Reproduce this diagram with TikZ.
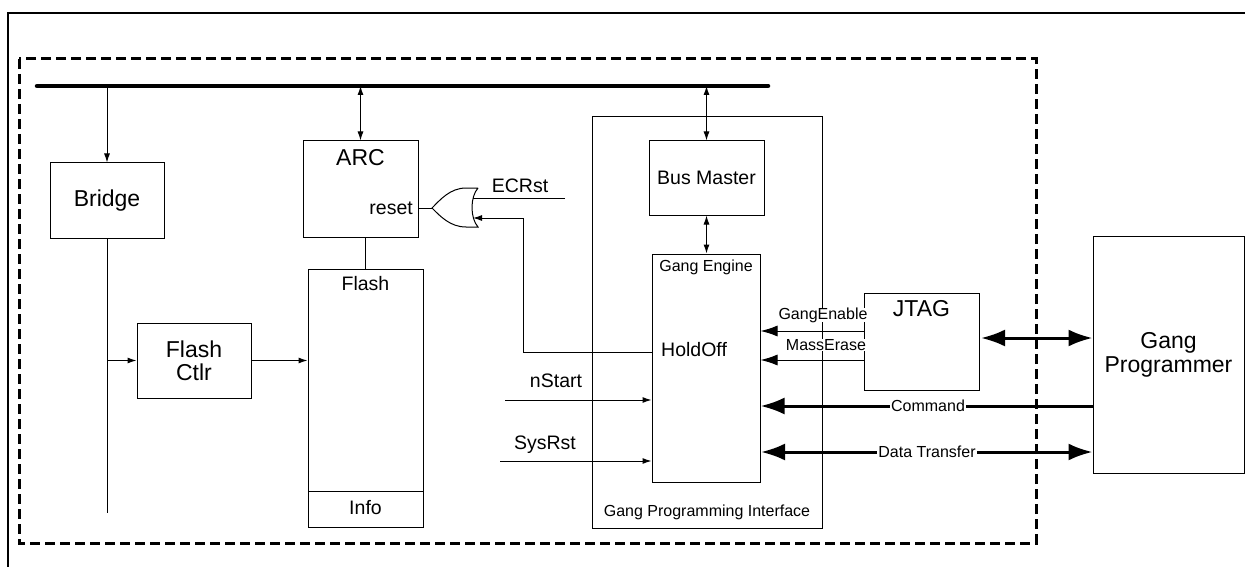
\documentclass[tikz,border=0pt]{standalone}
\usepackage{fontspec}
\setmainfont{Liberation Sans}
\usetikzlibrary{arrows.meta,calc}
\begin{document}
\begin{tikzpicture}[x=1pt,y=-1pt,
 box/.style={draw,line width=1pt,inner sep=0pt,align=center},
 big/.style={font=\fontsize{23}{25}\selectfont},
 mid/.style={font=\fontsize{19.5}{22}\selectfont},
 sml/.style={font=\fontsize{16}{18}\selectfont},
 lbl/.style={inner sep=0pt},
 thinln/.style={line width=1pt},
 tarr/.style={thinln,-{Latex[length=9pt,width=6pt]}},
 tdarr/.style={thinln,{Latex[length=9pt,width=6pt]}-{Latex[length=9pt,width=6pt]}},
 marr/.style={thinln,-{Latex[length=17pt,width=11pt]}},
 karr/.style={line width=3pt,-{Latex[length=24pt,width=17pt]}},
 kdarr/.style={line width=3pt,{Latex[length=24pt,width=17pt]}-{Latex[length=24pt,width=17pt]}},
]
\useasboundingbox (0,0) rectangle (1245,567);
% outer frame
\draw[line width=2.2pt] (8,567) -- (8,13) -- (1245,13);
% dashed boundary
\draw[line width=3pt,dash pattern=on 10pt off 5pt] (19,59) rectangle (1036,543);
% bus
\coordinate (busL) at (37,86);
\coordinate (busR) at (768,86);
\draw[line width=4.5pt,line cap=round] (busL) -- (busR);

% boxes
\node[box,big,minimum width=114pt,minimum height=75pt] (bridge) at (107,200.5) {Bridge};
\node[box,big,minimum width=114pt,minimum height=75pt] (fctl) at (194,360.5) {Flash\\[-2pt]Ctlr};
\node[box,minimum width=115pt,minimum height=258pt] (flash) at (365.5,398) {};
\draw[thinln] (308,491) -- (423,491);
\node[lbl,mid] (flashlbl) at (365.5,284) {Flash};
\node[lbl,mid] (info) at (365.5,508) {Info};
\node[box,minimum width=115pt,minimum height=96pt] (arc) at (360.5,189) {};
\node[lbl,big] (arclbl) at (360.5,158) {ARC};
\node[lbl,mid,anchor=east] (reset) at (413,208) {reset};
\node[box,minimum width=230pt,minimum height=411pt] (gpi) at (707,322.5) {};
\node[lbl,sml] (gpilbl) at (707,512) {Gang Programming Interface};
\node[box,mid,minimum width=115pt,minimum height=74pt] (busm) at (706.5,178) {Bus Master};
\node[box,minimum width=108pt,minimum height=228pt] (engine) at (706,368) {};
\node[lbl,sml] (englbl) at (706,267) {Gang Engine};
\node[lbl,mid,anchor=west] (holdoff) at (661,350) {HoldOff};
\node[box,minimum width=115pt,minimum height=97pt] (jtag) at (921.5,341.5) {};
\node[lbl,big] (jtaglbl) at (921.5,309) {JTAG};
\node[box,big,minimum width=151pt,minimum height=237pt] (gprog) at (1168.5,354.5) {Gang\\[-1pt]Programmer};

% OR gate
\coordinate (ortip) at (432,208);
\coordinate (orA) at (473,198);
\coordinate (orB) at (473,218);
\draw[thinln] (478,188) -- (466,188) .. controls (450,188) and (440,200) .. (ortip)
  .. controls (440,216) and (450,227) .. (466,227) -- (478,227)
  .. controls (470,218) and (470,197) .. (478,188);

% bus connections
\coordinate (bbr) at (bridge.north |- busL);
\draw[tarr] (bbr) -- (bridge.north);
\coordinate (barc) at (arc.north |- busL);
\draw[tdarr] (barc) -- (arc.north);
\coordinate (bbm) at (busm.north |- busL);
\draw[tdarr] (bbm) -- (busm.north);
\draw[tdarr] (busm.south) -- (busm.south |- engine.north);

% bridge / flash
\coordinate (brend) at (107,513);
\draw[thinln] (bridge.south) -- (brend);
\coordinate (brtap) at (107,360.5);
\draw[tarr] (brtap) -- (fctl.west);
\draw[tarr] (fctl.east) -- (fctl.east -| flash.west);
\draw[thinln] (flash.north |- arc.south) -- (flash.north);

% reset / OR gate
\draw[thinln] (arc.east |- ortip) -- (ortip);
\coordinate (ecr) at (565,198);
\draw[thinln] (ecr) -- (orA);
\node[lbl,mid] (ecrlbl) at (520,186) {ECRst};
\coordinate (hoA) at (523,352);
\draw[tarr] (engine.west |- hoA) -- (hoA) -- (hoA |- orB) -- (orB);

% nStart / SysRst
\coordinate (ns) at (505,400);
\draw[tarr] (ns) -- (engine.west |- ns);
\node[lbl,mid] (nslbl) at (556,381) {nStart};
\coordinate (sr) at (500,461);
\draw[tarr] (sr) -- (engine.west |- sr);
\node[lbl,mid] (srlbl) at (545,445) {SysRst};

% JTAG signals
\coordinate (ge) at (864,331);
\draw[marr] (ge) -- (engine.east |- ge);
\node[lbl,sml,fill=white] (gelbl) at (823,315) {GangEnable};
\coordinate (me) at (864,360);
\draw[marr] (me) -- (engine.east |- me);
\node[lbl,sml,fill=white] (melbl) at (826,345) {MassErase};

% thick links
\coordinate (jt) at (981,338);
\draw[kdarr] (jt) -- (gprog.west |- jt);
\coordinate (cmd) at (1093,406);
\draw[karr] (cmd) -- (engine.east |- cmd);
\node[lbl,sml,fill=white,inner xsep=1pt] (cmdlbl) at (928,406) {Command};
\coordinate (dt) at (761,452);
\draw[kdarr] (dt) -- (gprog.west |- dt);
\node[lbl,sml,fill=white,inner xsep=1pt] (dtlbl) at (927,452) {Data Transfer};
\end{tikzpicture}
\end{document}
